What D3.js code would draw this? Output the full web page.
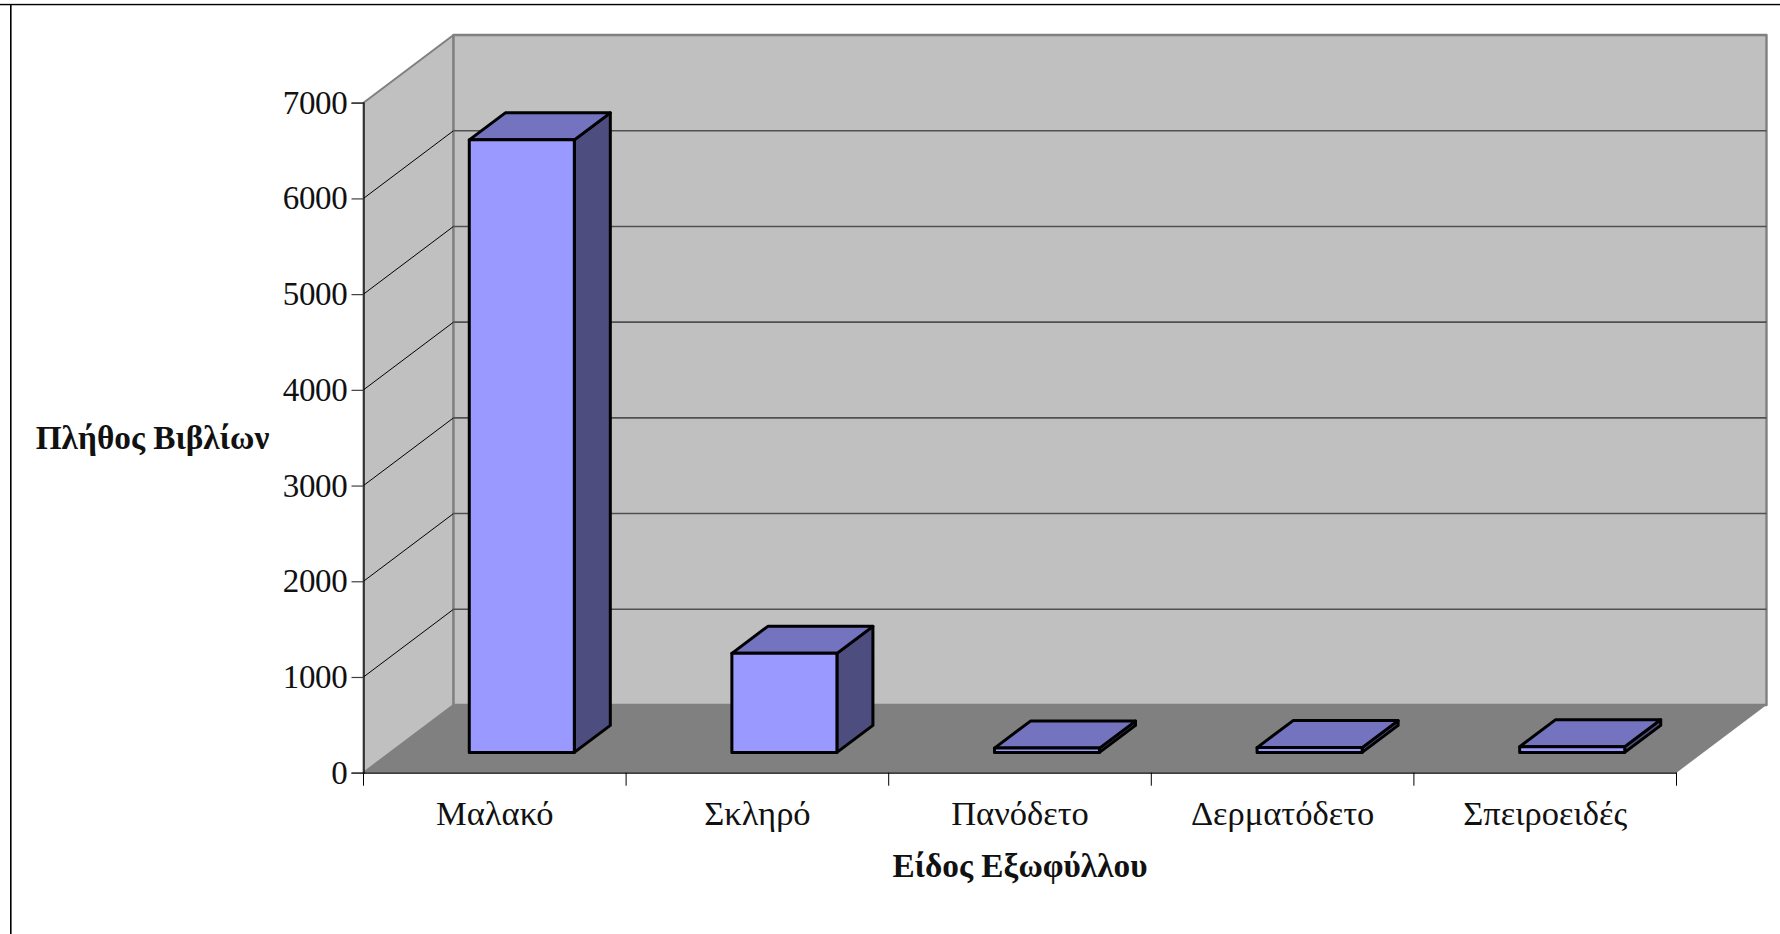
<!DOCTYPE html>
<html><head><meta charset="utf-8">
<style>html,body{margin:0;padding:0;background:#fff}svg{display:block}text{font-family:"Liberation Serif",serif;fill:#111}</style>
<script src="https://cdn.jsdelivr.net/npm/d3@7"></script></head><body>
<svg id="c" width="1780" height="934"></svg>
<script>
const categories=["Μαλακό","Σκληρό","Πανόδετο","Δερματόδετο","Σπειροειδές"];
const values=[6400,1035,45,50,60];
const yTicks=[0,1000,2000,3000,4000,5000,6000,7000];
const yTitle="Πλήθος Βιβλίων";
const xTitle="Είδος Εξωφύλλου";

const svg=d3.select("#c");
const X0=363.5,X1=1676.5,Y0=772.7,Y7=102.7;
const DX=90,DY=-67.7,BDX=36,BDY=-27;
const x=d3.scaleBand().domain(categories).range([X0,X1]).paddingInner(0.6).paddingOuter(0.3);
const cat=d3.scaleBand().domain(categories).range([X0,X1]);
const y=d3.scaleLinear().domain([0,7000]).range([Y0,Y7]);
const poly=(pts,f,s,w)=>svg.append("polygon").attr("points",pts.map(p=>p.join(",")).join(" ")).attr("fill",f).attr("stroke",s||"none").attr("stroke-width",w||0).attr("stroke-linejoin","round");
const line=(a,b,s,w)=>svg.append("line").attr("x1",a[0]).attr("y1",a[1]).attr("x2",b[0]).attr("y2",b[1]).attr("stroke",s).attr("stroke-width",w);

// frame
line([0,3.5],[1780,3.5],"#d8d8d8",1);
line([0,4.6],[1780,4.6],"#000",1.4);
line([10.8,4],[10.8,934],"#000",1.6);

// walls
poly([[X0,Y0],[X0+DX,Y0+DY],[X0+DX,Y7+DY],[X0,Y7]],"#c0c0c0","#808080",2);
poly([[X0+DX,Y0+DY],[X1+DX,Y0+DY],[X1+DX,Y7+DY],[X0+DX,Y7+DY]],"#c0c0c0","#808080",2.4);
poly([[X0,Y0],[X1,Y0],[X1+DX,Y0+DY],[X0+DX,Y0+DY]],"#808080");

// gridlines
yTicks.filter(t=>t>0&&t<7000).forEach(t=>{
  line([X0,y(t)],[X0+DX,y(t)+DY],"#000",1);
  line([X0+DX,y(t)+DY],[X1+DX,y(t)+DY],"#505050",1.6);
});

// bars
const ox=27,oy=-20.3;
categories.forEach((c,i)=>{
  const v=values[i],l=x(c)+ox,r=l+x.bandwidth(),b=Y0+oy,t=y(v)+oy;
  poly([[r,b],[r+BDX,b+BDY],[r+BDX,t+BDY],[r,t]],"#4d4d7f","#000",3);
  poly([[l,t],[r,t],[r+BDX,t+BDY],[l+BDX,t+BDY]],"#7373bf","#000",3);
  poly([[l,b],[r,b],[r,t],[l,t]],"#9999ff","#000",3);
});

// axes
const gy=svg.append("g").attr("transform",`translate(${X0},0)`).call(d3.axisLeft(y).tickValues(yTicks).tickSize(12).tickPadding(4).tickFormat(d3.format("d")));
const gx=svg.append("g").attr("transform",`translate(0,${Y0})`).call(d3.axisBottom(cat).tickSize(0).tickPadding(0));
gx.selectAll(".tick line").remove();
gx.selectAll(".tick text").attr("y",28);
[...categories.keys()].concat(categories.length).forEach(i=>{
  const px=i<categories.length?cat(categories[i]):X1;
  line([px,Y0],[px,Y0+13],"#000",1);
});
svg.selectAll(".domain").attr("stroke","#000").attr("stroke-width",1.2);
svg.selectAll(".tick line").attr("stroke","#404040").attr("stroke-width",1.2);
gx.selectAll(".tick text").attr("font-family","Liberation Serif").attr("font-size",34.5).attr("fill","#111");
gy.selectAll(".tick text").attr("font-family","Liberation Serif").attr("font-size",33).attr("letter-spacing",-0.3).attr("fill","#111").attr("dy","0.32em");

// titles
svg.append("text").attr("x",152.5).attr("y",449).attr("text-anchor","middle").attr("font-size",33.3).attr("font-weight","bold").text(yTitle);
svg.append("text").attr("x",1020).attr("y",877).attr("text-anchor","middle").attr("font-size",33.3).attr("font-weight","bold").text(xTitle);
</script></body></html>
